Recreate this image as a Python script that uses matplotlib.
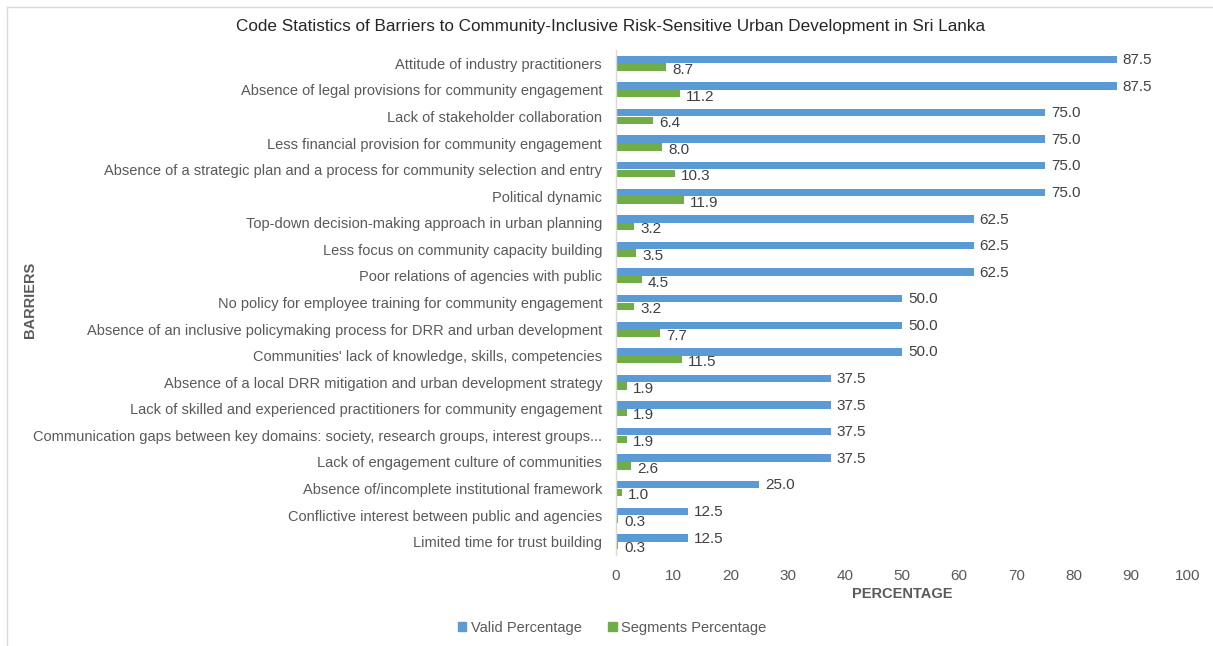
import matplotlib
matplotlib.use("Agg")
import matplotlib.pyplot as plt
from matplotlib.lines import Line2D
from matplotlib.patches import Patch
import numpy as np

plt.rcParams['font.family'] = ['Liberation Sans', 'DejaVu Sans']

categories = [
    "Attitude of industry practitioners",
    "Absence of legal provisions for community engagement",
    "Lack of stakeholder collaboration",
    "Less financial provision for community engagement",
    "Absence of a strategic plan and a process for community selection and entry",
    "Political dynamic",
    "Top-down decision-making approach in urban planning",
    "Less focus on community capacity building",
    "Poor relations of agencies with public",
    "No policy for employee training for community engagement",
    "Absence of an inclusive policymaking process for DRR and urban development",
    "Communities' lack of knowledge, skills, competencies",
    "Absence of a local DRR mitigation and urban development strategy",
    "Lack of skilled and experienced practitioners for community engagement",
    "Communication gaps between key domains: society, research groups, interest groups...",
    "Lack of engagement culture of communities",
    "Absence of/incomplete institutional framework",
    "Conflictive interest between public and agencies",
    "Limited time for trust building",
]
valid_pct = [87.5, 87.5, 75.0, 75.0, 75.0, 75.0, 62.5, 62.5, 62.5, 50.0,
             50.0, 50.0, 37.5, 37.5, 37.5, 37.5, 25.0, 12.5, 12.5]
segments_pct = [8.7, 11.2, 6.4, 8.0, 10.3, 11.9, 3.2, 3.5, 4.5, 3.2,
                7.7, 11.5, 1.9, 1.9, 1.9, 2.6, 1.0, 0.3, 0.3]
x_ticks = [0, 10, 20, 30, 40, 50, 60, 70, 80, 90, 100]

BLUE = "#5B9BD5"
GREEN = "#70AD47"
TEXT = "#595959"

W, H = 1213, 646
fig = plt.figure(figsize=(W / 100, H / 100), dpi=100)
ax = fig.add_axes([616 / W, 1 - 555 / H, (1188 - 616) / W, (555 - 50) / H])

y = np.arange(len(categories))
bh = 0.28
off = 0.145
ax.barh(y - off, valid_pct, height=bh, color=BLUE, label="Valid Percentage")
ax.barh(y + off, segments_pct, height=bh, color=GREEN, label="Segments Percentage")

for yi, v, s in zip(y, valid_pct, segments_pct):
    ax.annotate(f"{v:.1f}", (v, yi - off), xytext=(4.5, -0.5), textcoords="offset points",
                va="center", ha="left", fontsize=11, color="#404040")
    ax.annotate(f"{s:.1f}", (s, yi + off), xytext=(4.5, -2), textcoords="offset points",
                va="center", ha="left", fontsize=11, color="#404040")

ax.set_ylim(len(categories) - 0.5, -0.5)
ax.set_xlim(0, 100)
ax.set_xticks(x_ticks)
ax.set_yticks(y)
ax.set_yticklabels(categories)
ax.tick_params(axis="both", length=0, labelsize=10.5, labelcolor=TEXT)
ax.tick_params(axis="x", labelsize=11, pad=10)
ax.tick_params(axis="y", pad=10)
for side in ("top", "right", "bottom"):
    ax.spines[side].set_visible(False)
ax.spines["left"].set_color("#D9D9D9")
ax.spines["left"].set_linewidth(1.0)

ax.set_xlabel("PERCENTAGE", fontsize=10.5, fontweight="bold", color=TEXT, labelpad=3)
fig.text(30 / W, 1 - 300 / H, "BARRIERS", rotation=90, fontsize=10.5,
         fontweight="bold", color=TEXT, ha="center", va="center")

fig.text(611 / W, 1 - 27 / H,
         "Code Statistics of Barriers to Community-Inclusive Risk-Sensitive Urban Development in Sri Lanka",
         fontsize=12.3, color="#262626", ha="center", va="center")

handles = [Patch(color=BLUE, label="Valid Percentage"),
           Patch(color=GREEN, label="Segments Percentage")]
fig.legend(handles=handles, loc="center", bbox_to_anchor=(612 / W, 1 - 628 / H),
           ncol=2, frameon=False, fontsize=10.5, handlelength=0.6, handleheight=0.6,
           handletextpad=0.3, columnspacing=1.8, labelcolor=TEXT)

# chart frame
fig.add_artist(Line2D([7 / W, 7 / W], [0, 1 - 7 / H], transform=fig.transFigure,
                      color="#D9D9D9", linewidth=1.0))
fig.add_artist(Line2D([7 / W, 1], [1 - 7 / H, 1 - 7 / H], transform=fig.transFigure,
                      color="#D9D9D9", linewidth=1.0))

fig.savefig("out.png", dpi=100)
